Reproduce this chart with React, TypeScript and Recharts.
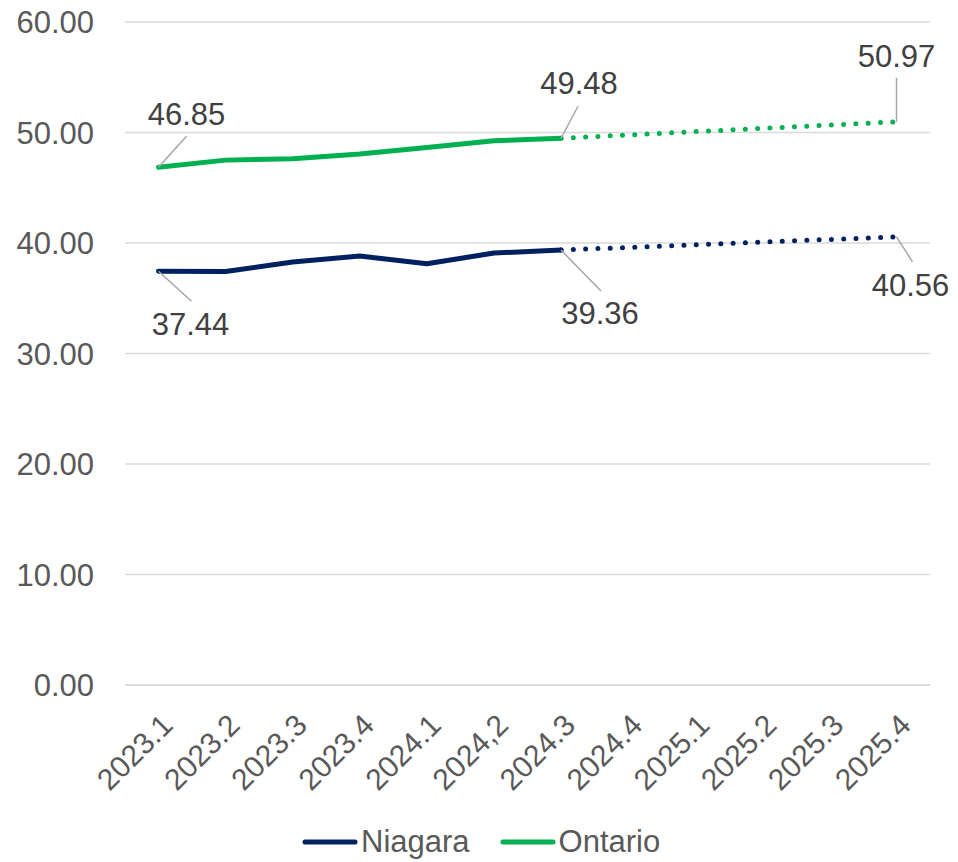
import React from 'react';
import { LineChart, Line, XAxis, YAxis, CartesianGrid, Legend, LabelList } from 'recharts';

const categories = ['2023.1', '2023.2', '2023.3', '2023.4', '2024.1', '2024,2', '2024.3', '2024.4', '2025.1', '2025.2', '2025.3', '2025.4'];
const niagara = [37.44, 37.42, 38.28, 38.82, 38.13, 39.09, 39.36, null, null, null, null, null];
const niagaraForecast = [null, null, null, null, null, null, 39.36, null, null, null, null, 40.56];
const ontario = [46.85, 47.5, 47.62, 48.05, 48.65, 49.25, 49.48, null, null, null, null, null];
const ontarioForecast = [null, null, null, null, null, null, 49.48, null, null, null, null, 50.97];
const yTicks = [0, 10, 20, 30, 40, 50, 60];
const seriesNames = ['Niagara', 'Ontario'];

const data = categories.map((c, i) => ({
  cat: c,
  niagara: niagara[i],
  niagaraForecast: niagaraForecast[i],
  ontario: ontario[i],
  ontarioForecast: ontarioForecast[i],
}));

const NAVY = '#002060';
const GREEN = '#00B050';
const FONT = 'Liberation Sans, Arial, sans-serif';
const FS = 31;

// label placement (styling): offsets relative to the data point
const labelSpots: Record<string, Record<number, { tx: number; ty: number; lx: number; ly: number }>> = {
  niagara: { 0: { tx: 32, ty: 64, lx: 33, ly: 30 }, 6: { tx: 39, ty: 74, lx: 40, ly: 41 } },
  niagaraForecast: { 11: { tx: 14, ty: 59, lx: 16, ly: 25 } },
  ontario: { 0: { tx: 28, ty: -42, lx: 28, ly: -31 }, 6: { tx: 18, ty: -44, lx: 17, ly: -32 } },
  ontarioForecast: { 11: { tx: 0, ty: -55, lx: 0, ly: -44 } },
};

const makeLabel = (key: string) => (props: any) => {
  const { x, y, index, value } = props;
  const spot = labelSpots[key][index];
  if (!spot || value == null) return null;
  return (
    <g>
      <line x1={x} y1={y} x2={x + spot.lx} y2={y + spot.ly} stroke="#A6A6A6" strokeWidth={1.5} />
      <text x={x + spot.tx} y={y + spot.ty} textAnchor="middle" fill="#404040" fontSize={FS} fontFamily={FONT}>
        {Number(value).toFixed(2)}
      </text>
    </g>
  );
};

const XTick = (props: any) => {
  const { x, y, payload } = props;
  return (
    <text
      x={0}
      y={0}
      transform={`translate(${x + 16},${y + 42}) rotate(-45)`}
      textAnchor="end"
      fill="#595959"
      fontSize={30}
      fontFamily={FONT}
    >
      {payload.value}
    </text>
  );
};

const LegendContent = () => {
  const colors = [NAVY, GREEN];
  return (
    <div style={{ display: 'flex', alignItems: 'center', height: 36, marginLeft: 302, fontFamily: FONT, fontSize: FS, color: '#595959' }}>
      {seriesNames.map((n, i) => (
        <div key={n} style={{ display: 'flex', alignItems: 'center', marginRight: 30 }}>
          <svg width={56} height={6} style={{ display: 'block' }}>
            <line x1={3} y1={3} x2={53} y2={3} stroke={colors[i]} strokeWidth={5} strokeLinecap="round" />
          </svg>
          <span style={{ marginLeft: 3, lineHeight: '36px' }}>{n}</span>
        </div>
      ))}
    </div>
  );
};

export default function App() {
  return (
    <div style={{ position: 'absolute', left: 0, top: 0, width: 958, height: 862, background: '#fff' }}>
      <LineChart width={958} height={862} data={data} margin={{ top: 22, right: 28, left: 0, bottom: 77 }}>
        <CartesianGrid vertical={false} stroke="#D9D9D9" strokeWidth={1.5} />
        <XAxis
          dataKey="cat"
          height={100}
          tick={<XTick />}
          tickLine={false}
          tickSize={0}
          tickMargin={0}
          axisLine={{ stroke: '#D9D9D9', strokeWidth: 1.5 }}
          padding={{ left: 33.5, right: 33.5 }}
          interval={0}
        />
        <YAxis
          width={125}
          domain={[0, 60]}
          ticks={yTicks}
          tickFormatter={(v: number) => v.toFixed(2)}
          axisLine={false}
          tickLine={false}
          tickSize={0}
          tickMargin={31}
          tick={{ fill: '#595959', fontSize: FS, fontFamily: FONT }}
        />
        <Legend
          verticalAlign="middle"
          align="center"
          content={<LegendContent />}
          wrapperStyle={{ top: 824, left: 0, width: 958, height: 36 }}
        />
        <Line
          dataKey="niagaraForecast"
          name="Niagara forecast"
          stroke={NAVY}
          strokeWidth={5}
          strokeDasharray="0 12.3"
          strokeLinecap="round"
          dot={false}
          activeDot={false}
          connectNulls
          isAnimationActive={false}
          legendType="none"
        >
          <LabelList dataKey="niagaraForecast" content={makeLabel('niagaraForecast')} />
        </Line>
        <Line
          dataKey="ontarioForecast"
          name="Ontario forecast"
          stroke={GREEN}
          strokeWidth={5}
          strokeDasharray="0 12.3"
          strokeLinecap="round"
          dot={false}
          activeDot={false}
          connectNulls
          isAnimationActive={false}
          legendType="none"
        >
          <LabelList dataKey="ontarioForecast" content={makeLabel('ontarioForecast')} />
        </Line>
        <Line
          dataKey="niagara"
          name="Niagara"
          stroke={NAVY}
          strokeWidth={5}
          strokeLinecap="round"
          strokeLinejoin="round"
          dot={false}
          activeDot={false}
          isAnimationActive={false}
        >
          <LabelList dataKey="niagara" content={makeLabel('niagara')} />
        </Line>
        <Line
          dataKey="ontario"
          name="Ontario"
          stroke={GREEN}
          strokeWidth={5}
          strokeLinecap="round"
          strokeLinejoin="round"
          dot={false}
          activeDot={false}
          isAnimationActive={false}
        >
          <LabelList dataKey="ontario" content={makeLabel('ontario')} />
        </Line>
      </LineChart>
    </div>
  );
}
